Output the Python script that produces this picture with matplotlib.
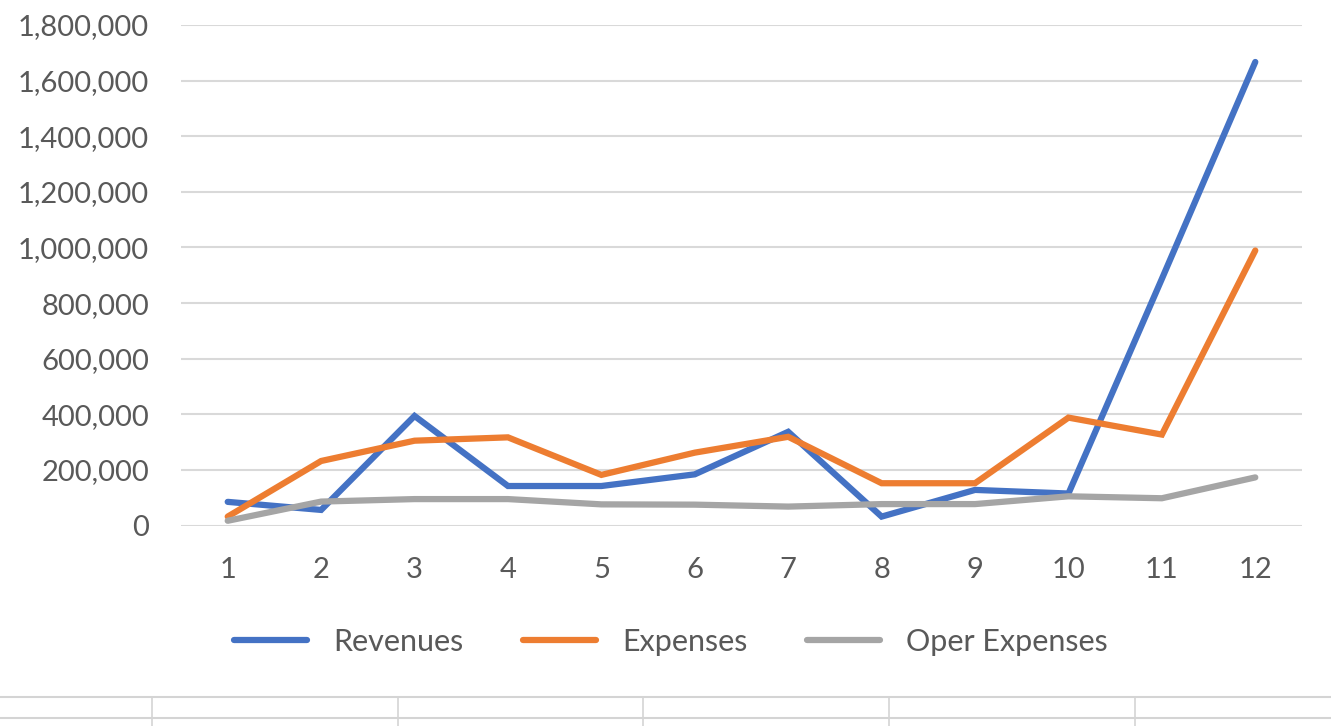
import numpy as np
import matplotlib
matplotlib.use('Agg')
import matplotlib.pyplot as plt
from matplotlib.lines import Line2D
from matplotlib.ticker import FuncFormatter

months = list(range(1, 13))
revenues = [85000, 56000, 394000, 142000, 142000, 184000, 337000, 32000, 128000, 115000, 887000, 1667000]
expenses = [32000, 232000, 305000, 317000, 182000, 262000, 319000, 152000, 152000, 388000, 327000, 989000]
oper_expenses = [17000, 86000, 95000, 95000, 76000, 75000, 68000, 77000, 77000, 105000, 98000, 173000]

series_names = ['Revenues', 'Expenses', 'Oper Expenses']
colors = ['#4472C4', '#ED7D31', '#A5A5A5']
text_color = '#595959'

plt.rcParams['font.family'] = ['Lato', 'DejaVu Sans']

W, H = 1331, 726
fig = plt.figure(figsize=(W / 100, H / 100), dpi=100)
ax = fig.add_axes([181 / W, 1 - 525.5 / H, (1302 - 181) / W, (525.5 - 25) / H])

for vals, name, c in zip([revenues, expenses, oper_expenses], series_names, colors):
    ax.plot(months, vals, color=c, lw=4.5, label=name, solid_capstyle='round',
            solid_joinstyle='miter', zorder=3)

ax.set_xlim(0.5, 12.5)
ax.set_ylim(0, 1800000)
ax.set_yticks(np.arange(0, 1800001, 200000))
ax.set_xticks(months)
ax.yaxis.set_major_formatter(FuncFormatter(lambda v, p: f'{int(v):,}'))
ax.grid(axis='y', color='#d9d9d9', lw=1.5, zorder=0)
for s in ax.spines.values():
    s.set_visible(False)
ax.tick_params(axis='both', length=0, labelsize=21, labelcolor=text_color)
ax.tick_params(axis='y', pad=23)
ax.tick_params(axis='x', pad=23)

fig.legend(loc='center', bbox_to_anchor=(0.504, 1 - 642 / H), ncol=3, frameon=False,
           fontsize=22, labelcolor=text_color, handlelength=2.4, handletextpad=0.85,
           columnspacing=1.95)

# spreadsheet cell borders below the chart
grid_c = '#d4d4d4'
for yy in [697, 718]:
    fig.add_artist(Line2D([0, 1], [1 - yy / H, 1 - yy / H], color=grid_c, lw=1.5))
for xx in [152, 398, 643, 889, 1135]:
    fig.add_artist(Line2D([xx / W, xx / W], [1 - 697 / H, 0], color=grid_c, lw=1.2))

fig.savefig('out.png', dpi=100)
